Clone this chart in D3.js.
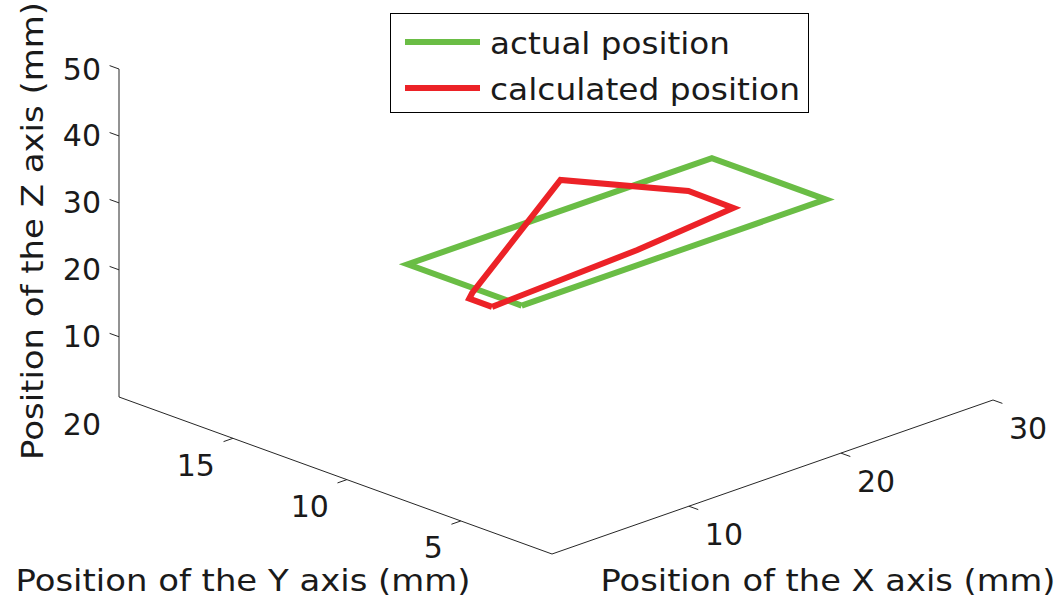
<!DOCTYPE html>
<html>
<head>
<meta charset="utf-8">
<script src="https://cdn.jsdelivr.net/npm/d3@7"></script>
<style>
  body { margin: 0; background: #fff; }
  text { font-family: "DejaVu Sans", "Noto Sans", sans-serif; fill: #1a1a1a; }
</style>
</head>
<body>
<svg id="chart" width="1061" height="599"></svg>
<script>
// Data (mm)
const seriesNames = ['actual position', 'calculated position'];
const actualX = [5, 15, 25, 25, 15, 5, 5];
const actualY = [5, 5, 5, 10, 10, 10, 5];
const actualZ = [30, 30, 30, 30, 30, 30, 30];
const calcX = [5, 15, 25, 25, 15, 5, 5, 5];
const calcY = [6.3, 6.6, 9.06, 11.03, 9.97, 7.17, 7.3, 6.3];
const calcZ = [28.2, 28.4, 23.7, 23.8, 34.7, 29.2, 28.2, 28.2];
const xTicks = [10, 20, 30];
const yTicks = [5, 10, 15, 20];
const zTicks = [10, 20, 30, 40, 50];

const svg = d3.select('#chart');

// Projected corners of the 3D box (screen space)
const O = [552, 554];   // (xmin, ymin, zmin)
const XE = [993, 400];  // (xmax, ymin, zmin)
const YE = [119, 397];  // (xmin, ymax, zmin)
const zTopY = 69;       // z = zmax above YE

const xs = d3.scaleLinear().domain([1, 30]).range([0, 1]);
const ys = d3.scaleLinear().domain([1, 20]).range([0, 1]);
const zs = d3.scaleLinear().domain([1, 50]).range([YE[1], zTopY]);

function project(x, y, z) {
  const a = xs(x), b = ys(y);
  const px = O[0] + a * (XE[0] - O[0]) + b * (YE[0] - O[0]);
  const py = O[1] + a * (XE[1] - O[1]) + b * (YE[1] - O[1]) + (zs(z) - YE[1]);
  return [px, py];
}

const axisColor = '#262626';
const g = svg.append('g');

// axes lines
g.append('path')
  .attr('d', `M${YE[0]},${zTopY} L${YE[0]},${YE[1]} L${O[0]},${O[1]} L${XE[0]},${XE[1]}`)
  .attr('fill', 'none').attr('stroke', axisColor).attr('stroke-width', 1);

// z ticks
zTicks.forEach(t => {
  const y = zs(t);
  g.append('line').attr('x1', YE[0]).attr('y1', y).attr('x2', YE[0] - 9.4).attr('y2', y - 3.4)
    .attr('stroke', axisColor);
  g.append('text').attr('x', 101).attr('y', y).attr('text-anchor', 'end')
    .attr('dominant-baseline', 'central').attr('font-size', 30).text(t);
});

// y ticks (labels right-aligned)
yTicks.forEach(t => {
  const [px, py] = project(1, t, 1);
  if (t < 20) {
    g.append('line').attr('x1', px).attr('y1', py).attr('x2', px - 9.4).attr('y2', py + 3.3)
      .attr('stroke', axisColor);
  }
  g.append('text').attr('x', px - 18).attr('y', py + 27).attr('text-anchor', 'end')
    .attr('dominant-baseline', 'central').attr('font-size', 30).text(t);
});

// x ticks (labels left-aligned)
xTicks.forEach(t => {
  const [px, py] = project(t, 1, 1);
  g.append('line').attr('x1', px).attr('y1', py).attr('x2', px + 9.4).attr('y2', py + 3.4)
    .attr('stroke', axisColor);
  g.append('text').attr('x', px + 16).attr('y', py + 28).attr('text-anchor', 'start')
    .attr('dominant-baseline', 'central').attr('font-size', 30).text(t);
});

// axis titles
function title(sel, len) {
  return sel.attr('text-anchor', 'middle').attr('font-size', 30)
    .attr('textLength', len).attr('lengthAdjust', 'spacingAndGlyphs');
}
title(g.append('text').attr('x', 243).attr('y', 591), 455).text('Position of the Y axis (mm)');
title(g.append('text').attr('x', 828).attr('y', 591), 455).text('Position of the X axis (mm)');
title(g.append('text').attr('transform', 'translate(43,231) rotate(-90)'), 458)
  .text('Position of the Z axis (mm)');

// series
const line = d3.line().x(d => d[0]).y(d => d[1]);
const colors = ['#6abd45', '#ec2227'];
const actualPts = actualX.map((x, i) => project(x, actualY[i], actualZ[i]));
const calcPts = calcX.map((x, i) => project(x, calcY[i], calcZ[i]));
[actualPts, calcPts].forEach((pts, i) => {
  g.append('path').attr('d', line(pts)).attr('fill', 'none')
    .attr('stroke', colors[i]).attr('stroke-width', 6).attr('stroke-linejoin', 'miter');
});

// legend
const legendLens = [240, 310];
const lg = svg.append('g');
lg.append('rect').attr('x', 390.5).attr('y', 13.5).attr('width', 418).attr('height', 99)
  .attr('fill', '#fff').attr('stroke', '#000').attr('stroke-width', 1);
seriesNames.forEach((name, i) => {
  const y = 42 + i * 46;
  lg.append('line').attr('x1', 405).attr('x2', 480).attr('y1', y).attr('y2', y)
    .attr('stroke', colors[i]).attr('stroke-width', 6);
  lg.append('text').attr('x', 490).attr('y', y + 1).attr('dominant-baseline', 'central')
    .attr('font-size', 30).attr('textLength', legendLens[i])
    .attr('lengthAdjust', 'spacingAndGlyphs').text(name);
});
</script>
</body>
</html>
